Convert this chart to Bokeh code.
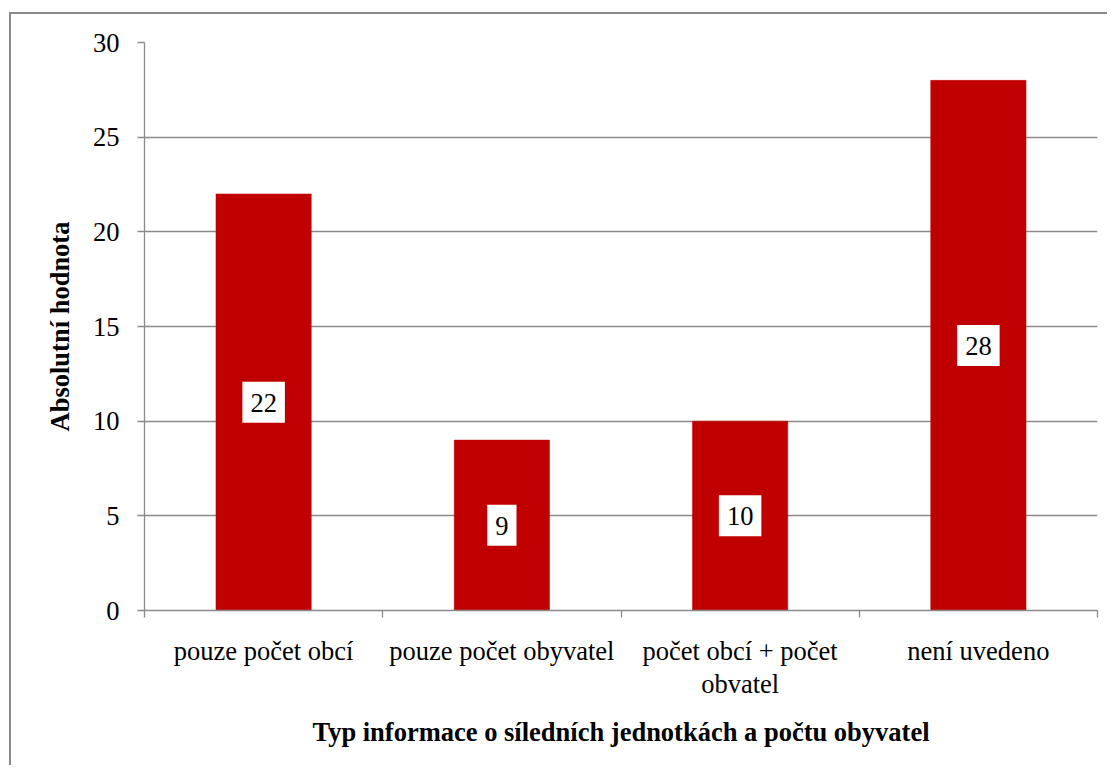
from bokeh.plotting import figure
from bokeh.models import Range1d, FixedTicker, ColumnDataSource, InlineStyleSheet
from bokeh.core.properties import value
from bokeh.embed import file_html
from bokeh.resources import INLINE

# ---- data ----
categories = ["pouze počet obcí", "pouze počet obyvatel", "počet obcí + počet\nobvatel", "není uvedeno"]
values = [22, 9, 10, 28]
y_ticks = [0, 5, 10, 15, 20, 25, 30]
x_title = "Typ informace o síledních jednotkách a počtu obyvatel"
y_title = "Absolutní hodnota"

FONT = "Liberation Serif"
FS = "26.5px"
GRAY = "#8a8a8a"
RED = "#C00000"

n = len(categories)
centers = [i + 0.5 for i in range(n)]
bounds = list(range(n + 1))

src = ColumnDataSource(dict(
    x=centers,
    top=values,
    mid=[v / 2 for v in values],
    lab=[str(v) for v in values],
))

p = figure(width=1107, height=765, x_range=Range1d(0, n), y_range=Range1d(y_ticks[0], y_ticks[-1]),
           output_backend="svg", toolbar_location=None,
           min_border_left=144, min_border_right=10, min_border_top=42, min_border_bottom=155)
p.outline_line_color = None
p.background_fill_color = "white"
p.border_fill_color = "white"

p.vbar(x="x", top="top", width=0.4, source=src, fill_color=RED, line_color=RED, line_width=0.5)

p.text(x="x", y="mid", text="lab", source=src, text_align="center", text_baseline="middle",
       text_font=value(FONT), text_font_size=FS, text_color="black",
       background_fill_color="white", padding=(8, 8, 12, 11))

# grid
p.xgrid.visible = False
p.ygrid.grid_line_color = GRAY
p.ygrid.grid_line_width = 1.3
p.ygrid.ticker = FixedTicker(ticks=y_ticks)

# y axis
ya = p.yaxis[0]
ya.ticker = FixedTicker(ticks=y_ticks, minor_ticks=[])
ya.axis_line_color = GRAY
ya.axis_line_width = 1.3
ya.major_tick_line_color = GRAY
ya.major_tick_line_width = 1.3
ya.major_tick_out = 7
ya.major_tick_in = 0
ya.minor_tick_line_color = None
ya.major_label_text_font = FONT
ya.major_label_text_font_size = FS
ya.major_label_text_color = "black"
ya.major_label_standoff = 18
ya.axis_label = y_title
ya.axis_label_text_font = FONT
ya.axis_label_text_font_style = "bold"
ya.axis_label_text_font_size = FS
ya.axis_label_text_color = "black"
ya.axis_label_standoff = 15

# x axis
xa = p.xaxis[0]
xa.ticker = FixedTicker(ticks=centers, minor_ticks=bounds)
xa.major_label_overrides = {c: lab for c, lab in zip(centers, categories)}
xa.axis_line_color = GRAY
xa.axis_line_width = 1.3
xa.major_tick_line_color = None
xa.major_tick_out = 0
xa.major_tick_in = 0
xa.minor_tick_line_color = GRAY
xa.minor_tick_line_width = 1.3
xa.minor_tick_out = 7
xa.minor_tick_in = 0
xa.major_label_text_font = FONT
xa.major_label_text_font_size = FS
xa.major_label_text_color = "black"
xa.major_label_text_line_height = 1.1
xa.major_label_standoff = 18
xa.axis_label = x_title
xa.axis_label_text_font = FONT
xa.axis_label_text_font_style = "bold"
xa.axis_label_text_font_size = FS
xa.axis_label_text_color = "black"
xa.axis_label_standoff = 15

# outer frame of the chart (left and top edges visible in the picture)
p.stylesheets = [InlineStyleSheet(css="""
:host { position: relative; }
:host::after {
  content: "";
  position: absolute;
  left: 8.5px; top: 11.5px; right: 0; bottom: 0;
  border-left: 2.5px solid #8a8a8a;
  border-top: 2.5px solid #8a8a8a;
  pointer-events: none;
  z-index: 10;
}
""")]

open("out.html", "w").write(file_html(p, INLINE))
